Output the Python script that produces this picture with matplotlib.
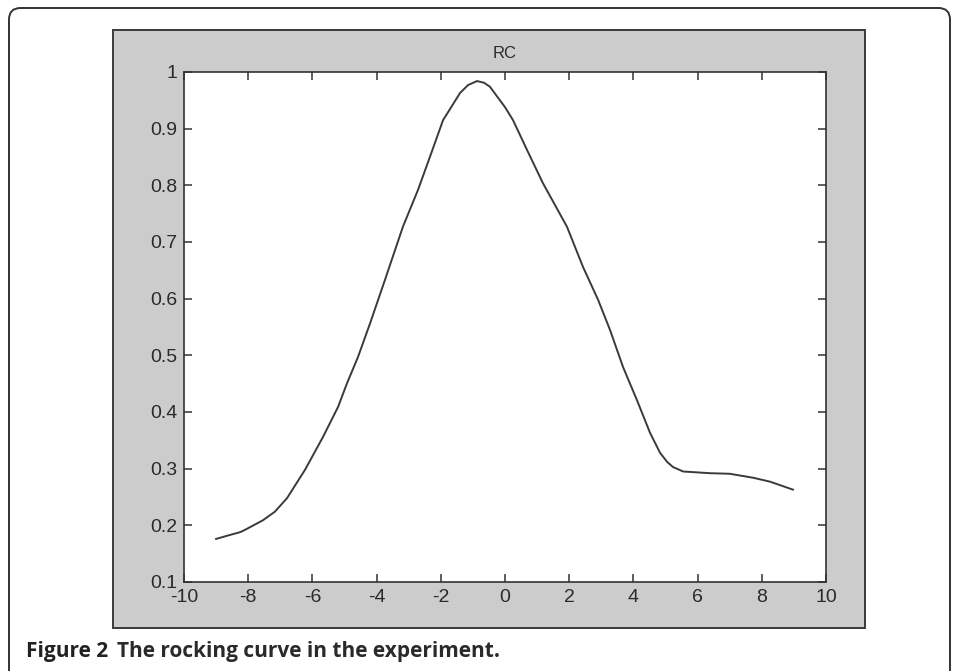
import numpy as np
import matplotlib
matplotlib.use('Agg')
import matplotlib.pyplot as plt
from matplotlib.patches import FancyBboxPatch, Rectangle

# rocking curve
angle = [-9.0, -8.57, -8.25, -8.1, -7.54, -7.17, -6.79, -6.23, -5.67, -5.2,
         -4.92, -4.58, -4.2, -3.74, -3.18, -2.71, -2.34, -1.93, -1.4, -1.15,
         -0.87, -0.65, -0.47, 0.0, 0.25, 0.69, 1.18, 1.93, 2.43, 2.9,
         3.27, 3.68, 4.11, 4.52, 4.83, 5.05, 5.23, 5.55, 6.39, 7.0,
         7.73, 8.26, 8.97]
intensity = [0.176, 0.183, 0.188, 0.192, 0.209, 0.224, 0.248, 0.298, 0.356, 0.409,
             0.451, 0.497, 0.557, 0.633, 0.727, 0.792, 0.850, 0.915, 0.963, 0.977,
             0.984, 0.981, 0.974, 0.938, 0.915, 0.862, 0.804, 0.727, 0.656, 0.598,
             0.545, 0.479, 0.421, 0.363, 0.328, 0.312, 0.303, 0.295, 0.292, 0.291,
             0.284, 0.277, 0.263]

xticks = [-10, -8, -6, -4, -2, 0, 2, 4, 6, 8, 10]
yticks = [0.1, 0.2, 0.3, 0.4, 0.5, 0.6, 0.7, 0.8, 0.9, 1.0]
ytick_labels = ['0.1', '0.2', '0.3', '0.4', '0.5', '0.6', '0.7', '0.8', '0.9', '1']

W, H = 958, 671
fig = plt.figure(figsize=(W / 100, H / 100), dpi=100)
fig.patch.set_facecolor('white')

# outer rounded frame of the figure box
frame = FancyBboxPatch((9 / W, -0.05), (950 - 9) / W, (H - 8) / H + 0.05,
                       boxstyle='round,pad=0,rounding_size=0.012',
                       transform=fig.transFigure, facecolor='none',
                       edgecolor='#333333', linewidth=1.4, mutation_aspect=W / H,
                       zorder=-2)
fig.patches.append(frame)

# gray matlab window
panel = Rectangle((113 / W, 1 - 628 / H), (865 - 113) / W, (628 - 30) / H,
                  transform=fig.transFigure, facecolor='#cccccc',
                  edgecolor='#3a3a3a', linewidth=1.4, zorder=-1)
fig.patches.append(panel)

ax = fig.add_axes([184 / W, 1 - 582 / H, (826 - 184) / W, (582 - 72) / H])
ax.set_zorder(2)
ax.set_facecolor('white')
ax.plot(angle, intensity, color='#3a3a3a', linewidth=1.4)
ax.set_xlim(-10, 10)
ax.set_ylim(0.1, 1.0)
ax.set_xticks(xticks)
ax.set_xticklabels([str(t) for t in xticks], family='Liberation Sans', fontsize=14)
ax.set_yticks(yticks)
ax.set_yticklabels(ytick_labels, family='Liberation Sans', fontsize=14)
for s in ax.spines.values():
    s.set_color('#333333')
    s.set_linewidth(1.2)
ax.tick_params(direction='in', length=6, width=1.1, color='#333333',
               top=True, right=True, labelcolor='#2a2a2a')
ax.tick_params(axis='x', pad=5)
ax.tick_params(axis='y', pad=5)
ax.set_title('RC', fontsize=12, family='Liberation Sans', color='#2a2a2a', pad=10)

fig.text(26 / W, 1 - 657 / H, 'Figure 2', family='Open Sans', weight='bold',
         fontsize=15, color='#222222', va='baseline')
fig.text(117 / W, 1 - 657 / H, 'The rocking curve in the experiment.', family='Open Sans',
         weight='bold', fontsize=15, color='#2a2a2a', va='baseline')

fig.savefig('out.png', dpi=100)
